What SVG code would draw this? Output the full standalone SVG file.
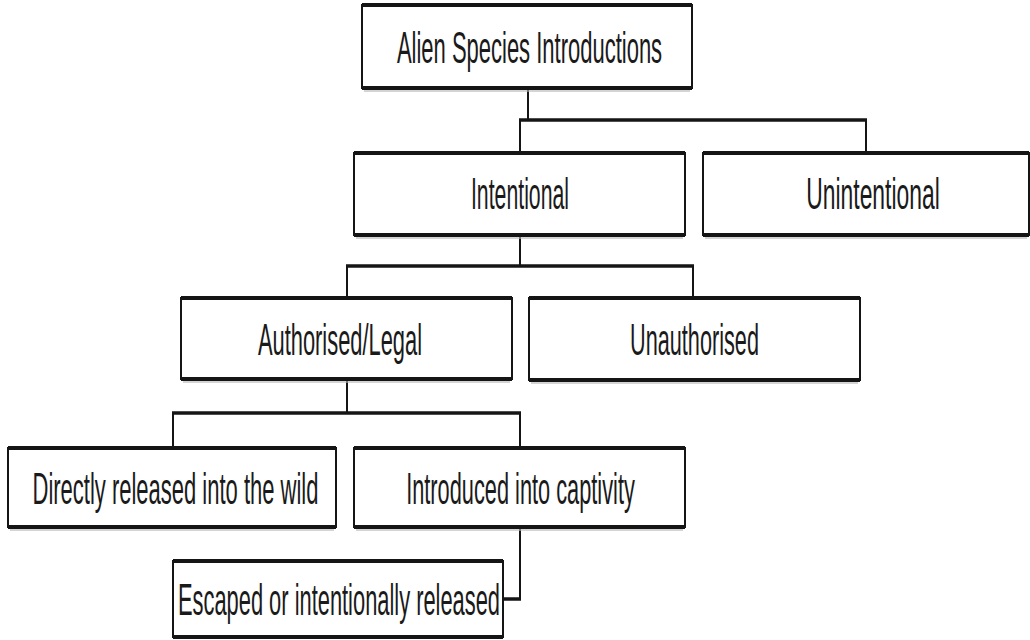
<svg xmlns="http://www.w3.org/2000/svg" width="1030" height="640" viewBox="0 0 1030 640">
  <style>
    .box { fill: #ffffff; stroke: #151515; stroke-width: 2; }
    .edge { fill: none; stroke: #151515; stroke-width: 4; }
    .shade { fill: none; stroke: #b8b8b8; stroke-width: 2; opacity: 0.6; }
    .label { font-family: "Liberation Sans", Arial, sans-serif; font-size: 44px; fill: #1a1a1a; text-anchor: middle; }
    .vline { fill: none; stroke: #151515; stroke-width: 2; }
    .hline { fill: none; stroke: #151515; stroke-width: 3.5; }
  </style>

  <!-- connectors: vertical drops are thin, horizontal rails thicker -->
  <g id="connectors">
    <path class="vline" d="M528 88 V120 M520 120 V153 M866 120 V153"/>
    <path class="hline" d="M519 120 H867"/>
    <path class="vline" d="M520 235 V266 M347 266 V298 M693 266 V298"/>
    <path class="hline" d="M346 266 H694"/>
    <path class="vline" d="M347 379 V413 M173 413 V448 M520 413 V448"/>
    <path class="hline" d="M172 413 H521"/>
    <path class="vline" d="M520 527 V599"/>
    <path class="hline" d="M503 599 H521"/>
  </g>

  <!-- labels are set in a horizontally condensed face: scale(x, 1) about the anchor -->
  <g id="node-root">
    <rect class="box" x="362" y="5" width="330" height="83"/>
    <path class="shade" d="M364 91 H690"/>
    <path class="edge" d="M362 5 H692 M362 88 H692"/>
    <text class="label" transform="translate(529.5 63) scale(0.5 1)">Alien Species Introductions</text>
  </g>

  <g id="node-intentional">
    <rect class="box" x="354" y="153" width="331" height="82"/>
    <path class="shade" d="M356 238 H683"/>
    <path class="edge" d="M354 153 H685 M354 235 H685"/>
    <text class="label" transform="translate(520 209) scale(0.483 1)">Intentional</text>
  </g>

  <g id="node-unintentional">
    <rect class="box" x="703" y="153" width="326" height="82"/>
    <path class="shade" d="M705 238 H1027"/>
    <path class="edge" d="M703 153 H1029 M703 235 H1029"/>
    <text class="label" transform="translate(873 209) scale(0.52 1)">Unintentional</text>
  </g>

  <g id="node-authorised">
    <rect class="box" x="181" y="298" width="331" height="81"/>
    <path class="shade" d="M183 382 H510"/>
    <path class="edge" d="M181 298 H512 M181 379 H512"/>
    <text class="label" transform="translate(340 355) scale(0.497 1)">Authorised/Legal</text>
  </g>

  <g id="node-unauthorised">
    <rect class="box" x="529" y="298" width="331" height="82"/>
    <path class="shade" d="M531 383 H858"/>
    <path class="edge" d="M529 298 H860 M529 380 H860"/>
    <text class="label" transform="translate(694.5 355) scale(0.493 1)">Unauthorised</text>
  </g>

  <g id="node-direct">
    <rect class="box" x="8" y="448" width="328" height="79"/>
    <path class="shade" d="M10 530 H334"/>
    <path class="edge" d="M8 448 H336 M8 527 H336"/>
    <text class="label" transform="translate(175.5 504) scale(0.5 1)">Directly released into the wild</text>
  </g>

  <g id="node-captivity">
    <rect class="box" x="354" y="448" width="331" height="79"/>
    <path class="shade" d="M356 530 H683"/>
    <path class="edge" d="M354 448 H685 M354 527 H685"/>
    <text class="label" transform="translate(520.5 504) scale(0.495 1)">Introduced into captivity</text>
  </g>

  <g id="node-escaped">
    <rect class="box" x="173" y="561" width="330" height="76"/>
    <path class="edge" d="M173 561 H503 M173 637 H503"/>
    <text class="label" transform="translate(339 615) scale(0.497 1)">Escaped or intentionally released</text>
  </g>
</svg>
